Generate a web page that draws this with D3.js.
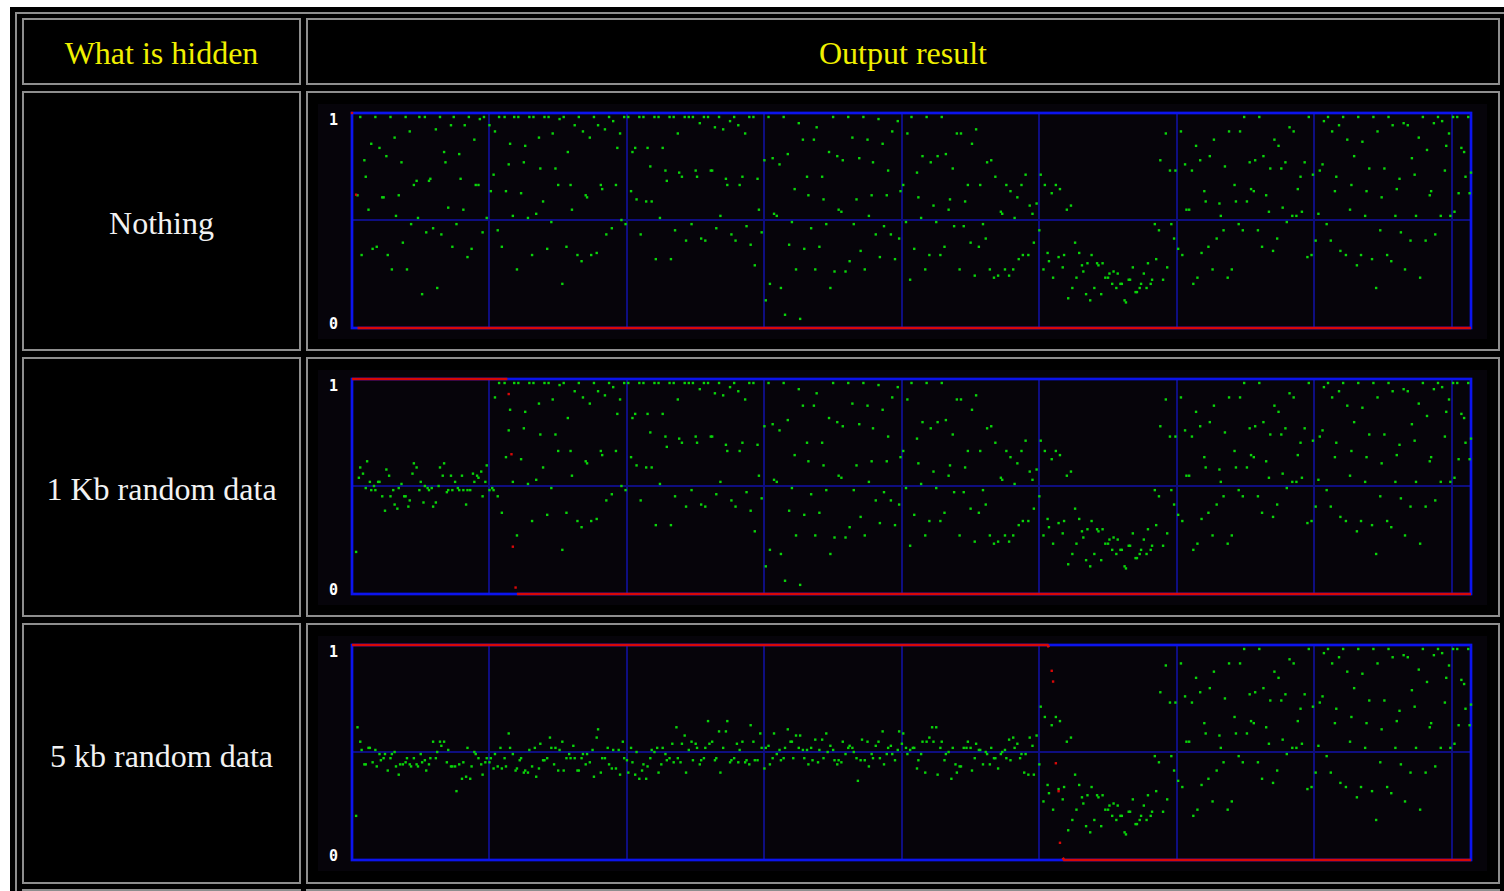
<!DOCTYPE html>
<html>
<head>
<meta charset="utf-8">
<script src="https://cdn.jsdelivr.net/npm/d3@7"></script>
<style>
  html, body { margin: 0; padding: 0; background: #fff; overflow: hidden; }
</style>
</head>
<body>
<svg id="page"></svg>
<script>
// Table texts
const headers = ['What is hidden', 'Output result'];
const rowLabels = ['Nothing', '1 Kb random data', '5 kb random data'];
const yTickLabels = ['0', '1'];
const gridX = [100, 200, 300, 400, 500, 600, 700, 800];
const sampleMax = 814;

// Green dots of the clean cover image: [sample, mean of LSBs]
const coverLsb = [
  [4,0.62],[6,1],[7,0.33],[9,0.79],[10,0.71],[12,0.55],[14,0.87],[15,0.36],[17,1],[18,0.37],[20,0.85],[22,0.61],[23,0.61],[25,0.81],[26,0.33],[28,1],[29,0.26],[31,0.90],[32,0.52],[34,0.62],[36,0.78],[37,0.39],[39,1],[40,0.26],[42,0.93],[43,0.48],[45,0.67],[47,0.69],[48,0.51],[49,1],[51,0.14],[53,1],[54,0.44],[56,0.69],[57,0.70],[59,0.46],[61,0.94],[62,0.17],[64,1],[65,0.43],[67,0.83],[68,0.78],[70,0.56],[72,0.96],[73,0.37],[74,1],[76,0.48],[78,0.82],[79,0.70],[81,0.55],[82,0.96],[84,0.32],[85,1],[87,0.36],[89,0.89],[90,0.67],[92,0.67],[93,0.99],[95,0.44],[96,1],[98,0.51],
  [100,0.96],[101,0.64],[103,0.72],[104,0.93],[106,0.45],[107,1],[109,0.37],[111,1],[112,0.64],[114,0.77],[115,0.87],[117,0.52],[118,1],[120,0.26],[121,1],[123,0.63],[125,0.78],[126,0.86],[128,0.51],[129,1],[131,0.33],[132,1],[134,0.53],[136,0.90],[137,0.75],[139,0.59],[140,1],[142,0.36],[143,1],[145,0.49],[146,0.92],[148,0.75],[150,0.67],[151,0.99],[153,0.19],[154,1],[156,0.37],[157,0.83],[159,0.67],[160,0.55],[162,0.96],[164,0.33],[165,1],[167,0.30],[168,0.93],[170,0.62],[171,0.61],[173,0.90],[174,0.33],[176,1],[178,0.34],[179,0.96],[181,0.67],[182,0.65],[184,0.94],[185,0.43],[187,1],[189,0.46],[190,0.98],[192,0.67],[193,0.85],[195,0.92],[196,0.50],[198,1],
  [199,0.48],[201,1],[203,0.64],[204,0.83],[206,0.85],[207,0.60],[209,1],[210,0.43],[212,1],[214,0.59],[215,0.85],[217,0.76],[218,0.59],[220,1],[221,0.31],[223,1],[224,0.51],[226,0.85],[228,0.74],[229,0.69],[231,1],[232,0.31],[234,1],[235,0.45],[237,0.92],[238,0.73],[240,0.71],[242,1],[243,0.40],[245,1],[247,0.48],[248,1],[250,0.74],[251,0.71],[253,0.97],[254,0.41],[256,1],[257,0.40],[259,1],[261,0.74],[262,0.74],[264,0.95],[265,0.46],[267,1],[268,0.52],[270,0.94],[272,0.70],[273,0.67],[275,0.98],[276,0.43],[278,1],[279,0.40],[281,0.96],[282,0.67],[284,0.71],[286,0.92],[287,0.47],[289,1],[290,0.38],[292,1],[293,0.28],[295,0.70],[296,0.55],[298,0.44],
  [300,0.79],[301,0.11],[303,1],[304,0.19],[306,0.80],[307,0.53],[309,0.52],[311,0.77],[312,0.17],[314,1],[315,0.04],[317,0.82],[318,0.38],[320,0.49],[322,0.65],[323,0.26],[325,0.97],[326,0.02],[328,0.89],[329,0.36],[331,0.71],[332,0.62],[334,0.46],[336,0.89],[337,0.26],[338,0.95],[340,0.37],[342,0.71],[343,0.60],[345,0.48],[347,0.83],[348,0.17],[350,1],[351,0.25],[353,0.81],[354,0.55],[356,0.54],[357,0.79],[359,0.25],[361,1],[362,0.30],[364,0.90],[365,0.48],[367,0.60],[369,0.80],[370,0.35],[372,1],[373,0.26],[375,0.89],[376,0.52],[378,0.62],[379,0.78],[381,0.43],[383,0.99],[384,0.32],[386,0.87],[387,0.47],[389,0.62],[390,0.74],[392,0.43],[393,0.93],[395,0.31],[397,0.98],[398,0.41],
  [399,0.64],[401,0.67],[403,0.49],[404,0.92],[406,0.21],[407,1],[409,0.36],[411,0.73],[412,0.61],[414,0.51],[415,0.81],[417,0.26],[418,1],[420,0.33],[421,0.78],[423,0.57],[425,0.49],[426,0.81],[428,0.33],[429,1],[431,0.37],[432,0.82],[434,0.55],[435,0.60],[437,0.75],[438,0.47],[440,0.92],[442,0.26],[443,0.92],[445,0.47],[446,0.59],[448,0.67],[450,0.39],[451,0.87],[453,0.23],[454,0.94],[456,0.37],[457,0.67],[459,0.48],[461,0.41],[462,0.78],[464,0.26],[465,0.79],[467,0.22],[468,0.71],[470,0.23],[472,0.54],[473,0.53],[475,0.26],[476,0.67],[478,0.23],[479,0.64],[481,0.26],[482,0.51],[484,0.61],[485,0.31],[487,0.67],[488,0.33],[490,0.72],[492,0.33],[493,0.57],[495,0.53],[496,0.39],[498,0.58],[500,0.45],
  [501,0.72],[503,0.26],[504,0.67],[506,0.34],[507,0.30],[509,0.63],[510,0.22],[512,0.67],[514,0.32],[515,0.65],[517,0.27],[518,0.33],[520,0.55],[521,0.12],[523,0.57],[524,0.17],[526,0.39],[527,0.22],[529,0.34],[531,0.28],[532,0.25],[534,0.14],[535,0.29],[537,0.11],[538,0.33],[540,0.17],[542,0.29],[543,0.28],[545,0.14],[546,0.29],[548,0.22],[550,0.22],[551,0.24],[553,0.19],[554,0.25],[556,0.17],[557,0.24],[559,0.19],[560,0.19],[562,0.11],[563,0.10],[565,0.21],[566,0.21],[568,0.27],[570,0.15],[571,0.15],[573,0.17],[574,0.19],[576,0.24],[578,0.17],[579,0.29],[581,0.19],[582,0.21],[584,0.48],[585,0.31],[587,0.45],[588,0.79],[590,0.21],[592,0.92],[593,0.27],[595,0.74],[596,0.48],[598,0.41],[599,0.74],
  [601,0.36],[603,0.93],[604,0.33],[606,0.77],[607,0.55],[609,0.55],[611,0.74],[612,0.19],[614,0.86],[615,0.22],[617,0.79],[618,0.34],[620,0.64],[621,0.59],[623,0.37],[624,0.81],[626,0.26],[627,0.89],[629,0.41],[631,0.58],[632,0.52],[634,0.45],[635,0.76],[637,0.22],[638,0.93],[640,0.26],[642,0.67],[643,0.59],[645,0.48],[646,0.93],[648,0.45],[649,1],[651,0.59],[653,0.78],[654,0.65],[656,0.64],[657,0.79],[659,0.45],[660,1],[662,0.37],[663,0.81],[665,0.62],[667,0.54],[668,0.75],[670,0.35],[671,0.89],[673,0.41],[674,0.86],[676,0.75],[677,0.56],[679,0.78],[680,0.49],[682,0.95],[684,0.52],[685,0.93],[687,0.52],[688,0.65],[690,0.71],[691,0.54],[693,0.78],[695,0.32],[696,1],[698,0.33],[699,0.72],
  [701,0.40],[703,0.53],[704,0.74],[706,0.77],[707,0.98],[709,0.48],[710,1],[712,0.40],[713,0.93],[715,0.64],[716,0.71],[718,0.96],[719,0.35],[721,1],[723,0.33],[724,0.89],[726,0.55],[727,0.67],[729,0.81],[731,0.28],[732,1],[734,0.33],[735,0.88],[737,0.52],[738,0.64],[740,0.75],[742,0.31],[743,1],[745,0.17],[746,0.93],[748,0.45],[749,0.61],[751,0.75],[753,0.33],[754,1],[756,0.30],[757,0.96],[759,0.52],[760,0.65],[762,0.70],[763,0.44],[765,0.97],[766,0.26],[768,0.96],[770,0.40],[771,0.80],[773,0.72],[774,0.52],[776,0.90],[777,0.22],[779,1],[781,0.40],[782,0.84],[784,0.62],[785,0.64],[787,0.97],[788,0.43],[790,1],[792,0.52],[793,0.98],[795,0.74],[796,0.86],[798,0.92],[799,0.52],
  [801,1],[802,0.54],[804,1],[805,0.63],[807,0.85],[809,0.83],[810,0.71],[812,1],[813,0.63],[814,0.73]
];

// Green dots where 1 Kb was embedded (the rest is the cover)
const kb1Lsb = [
  [3,0.18],[5,0.54],[6,0.59],[8,0.56],[10,0.49],[11,0.62],[13,0.52],[14,0.48],[16,0.50],[17,0.48],[19,0.52],[20,0.52],[22,0.45],[24,0.38],[25,0.58],[27,0.55],[28,0.45],[30,0.48],[31,0.41],[33,0.39],[34,0.49],[36,0.51],[38,0.45],[39,0.45],[41,0.40],[42,0.43],[44,0.56],[45,0.61],[47,0.59],[49,0.48],[50,0.52],[52,0.42],[53,0.50],[55,0.49],[56,0.48],[58,0.49],[59,0.40],[61,0.42],[63,0.50],[64,0.59],[66,0.55],[67,0.61],[69,0.47],[70,0.48],[72,0.55],[73,0.48],[75,0.52],[77,0.49],[78,0.48],[80,0.55],[81,0.48],[83,0.41],[84,0.48],[86,0.48],[88,0.56],[89,0.52],[91,0.55],[92,0.54],[94,0.57],[95,0.45],[97,0.52],[98,0.60],[100,0.48],[102,0.49],[103,0.48]
];

// Green dots where 5 Kb was embedded (the rest is the cover)
const kb5Lsb = [
  [3,0.19],[4,0.62],[6,0.55],[7,0.51],[9,0.44],[10,0.44],[12,0.52],[13,0.52],[15,0.45],[17,0.51],[18,0.43],[20,0.49],[21,0.46],[23,0.47],[24,0.49],[26,0.41],[28,0.47],[29,0.49],[31,0.50],[32,0.43],[34,0.39],[35,0.44],[37,0.44],[39,0.45],[40,0.47],[42,0.44],[43,0.43],[45,0.47],[47,0.44],[48,0.43],[50,0.49],[51,0.45],[53,0.46],[54,0.41],[56,0.44],[57,0.47],[59,0.55],[61,0.47],[62,0.50],[64,0.55],[65,0.53],[67,0.55],[69,0.45],[70,0.51],[72,0.43],[73,0.43],[75,0.43],[76,0.31],[78,0.44],[80,0.37],[81,0.45],[83,0.38],[84,0.52],[86,0.37],[87,0.43],[89,0.50],[90,0.49],[92,0.47],[94,0.44],[95,0.39],[97,0.45],[98,0.47],
  [100,0.45],[101,0.47],[103,0.42],[104,0.49],[106,0.43],[108,0.52],[109,0.42],[111,0.47],[112,0.43],[114,0.59],[115,0.52],[117,0.49],[119,0.41],[120,0.42],[122,0.46],[123,0.47],[125,0.40],[126,0.41],[128,0.40],[129,0.51],[131,0.43],[133,0.52],[134,0.38],[136,0.42],[137,0.54],[139,0.46],[140,0.46],[142,0.47],[144,0.57],[145,0.52],[147,0.44],[148,0.52],[150,0.41],[151,0.51],[153,0.55],[154,0.41],[156,0.47],[158,0.49],[159,0.47],[161,0.53],[162,0.47],[164,0.41],[165,0.41],[167,0.47],[168,0.49],[170,0.44],[171,0.49],[173,0.45],[175,0.51],[176,0.38],[178,0.57],[179,0.61],[181,0.40],[182,0.47],[184,0.47],[186,0.52],[187,0.44],[189,0.42],[190,0.51],[192,0.42],[194,0.51],[195,0.39],[197,0.55],[198,0.47],
  [200,0.46],[201,0.40],[203,0.52],[204,0.45],[206,0.39],[207,0.50],[209,0.37],[211,0.41],[212,0.44],[214,0.37],[215,0.43],[217,0.47],[218,0.51],[220,0.50],[222,0.52],[223,0.40],[225,0.44],[226,0.52],[228,0.49],[229,0.46],[231,0.47],[233,0.54],[234,0.45],[236,0.62],[237,0.47],[239,0.45],[240,0.54],[242,0.58],[243,0.40],[245,0.51],[247,0.55],[248,0.46],[250,0.54],[251,0.52],[253,0.44],[254,0.46],[256,0.47],[257,0.52],[259,0.65],[260,0.54],[262,0.55],[264,0.46],[265,0.47],[267,0.60],[268,0.40],[270,0.52],[272,0.60],[273,0.65],[275,0.45],[276,0.46],[278,0.47],[280,0.54],[281,0.45],[282,0.51],[284,0.55],[286,0.45],[287,0.46],[289,0.44],[290,0.63],[292,0.55],[293,0.46],[295,0.46],[297,0.59],[298,0.52],
  [300,0.42],[301,0.52],[303,0.53],[304,0.44],[306,0.47],[307,0.59],[309,0.49],[311,0.51],[312,0.46],[314,0.47],[315,0.52],[317,0.61],[319,0.55],[320,0.55],[321,0.47],[323,0.58],[325,0.52],[326,0.58],[328,0.51],[329,0.47],[331,0.51],[332,0.44],[334,0.52],[335,0.46],[337,0.56],[339,0.45],[340,0.51],[342,0.56],[343,0.47],[345,0.59],[346,0.50],[348,0.53],[350,0.51],[351,0.46],[353,0.44],[354,0.46],[356,0.45],[357,0.55],[359,0.49],[361,0.52],[362,0.53],[364,0.52],[365,0.50],[367,0.47],[368,0.36],[370,0.46],[371,0.56],[373,0.46],[375,0.55],[376,0.43],[378,0.49],[379,0.47],[381,0.53],[383,0.55],[384,0.47],[386,0.60],[387,0.44],[389,0.49],[390,0.52],[392,0.53],[393,0.49],[395,0.46],[397,0.51],[398,0.60],
  [400,0.54],[401,0.59],[403,0.52],[404,0.49],[406,0.51],[408,0.52],[409,0.52],[411,0.42],[412,0.46],[414,0.49],[415,0.55],[417,0.40],[418,0.55],[420,0.57],[422,0.62],[423,0.55],[425,0.62],[426,0.39],[428,0.52],[429,0.55],[431,0.46],[432,0.49],[434,0.50],[436,0.37],[437,0.52],[439,0.44],[440,0.40],[442,0.43],[443,0.43],[445,0.52],[447,0.52],[448,0.55],[450,0.52],[451,0.41],[453,0.47],[454,0.54],[456,0.51],[457,0.51],[459,0.44],[461,0.50],[462,0.49],[464,0.44],[465,0.52],[467,0.47],[468,0.47],[470,0.42],[472,0.49],[473,0.50],[475,0.51],[476,0.47],[478,0.56],[479,0.46],[481,0.57],[482,0.52],[484,0.54],[486,0.47],[487,0.49],[489,0.40],[490,0.49],[492,0.39],[493,0.57],[495,0.53],[496,0.39],[498,0.58],[500,0.44]
];
const embedEnd = [0, 104, 501];   // first sample taken from the cover again

// Red: probability of embedding, [sample, p]
const pNothing = [[0,1],[3,0.62],[4,0],[814,0]];
const p1kb = [[0,1],[113,1],[114,0.93],[116,0.65],[117,0.22],[119,0.03],[120,0],[814,0]];
const p5kb = [[0,1],[506,1],[507,0.99],[509,0.88],[510,0.83],[512,0.45],[514,0.32],[515,0.08],[517,0.01],[518,0],[814,0]];

const lsbRows = [[], kb1Lsb, kb5Lsb];
const probRows = [pNothing, p1kb, p5kb];

// Page
const W = 1504, H = 891;
const svg = d3.select('#page').attr('width', W).attr('height', H);
svg.append('rect').attr('width', W).attr('height', H).attr('fill', '#fff');
svg.append('rect').attr('x', 10).attr('y', 7).attr('width', W - 10).attr('height', H - 7).attr('fill', '#000');

// Table borders
const border = '#8e8e8e';
svg.append('path')
  .attr('d', 'M16,' + H + 'V13H' + W)
  .attr('fill', 'none').attr('stroke', border).attr('stroke-width', 2);

function cell(x0, y0, x1, y1) {
  svg.append('rect')
    .attr('x', x0 + 1).attr('y', y0 + 1)
    .attr('width', x1 - x0 - 2).attr('height', y1 - y0 - 2)
    .attr('fill', '#000').attr('stroke', border).attr('stroke-width', 2);
}
const colX = [[22, 301], [306, 1500]];
const rowY = [[18, 85], [91, 351], [357, 617], [623, 884], [889, 960]];
rowY.forEach(function (r) {
  colX.forEach(function (c) { cell(c[0], r[0], c[1], r[1]); });
});

// Header texts
svg.selectAll('text.head')
  .data(headers)
  .enter()
  .append('text')
  .attr('class', 'head')
  .attr('x', function (d, i) { return (colX[i][0] + colX[i][1]) / 2; })
  .attr('y', 64)
  .attr('text-anchor', 'middle')
  .attr('font-family', 'Liberation Serif, serif')
  .attr('font-size', 32)
  .attr('fill', '#f0f000')
  .text(function (d) { return d; });

// Row labels
svg.selectAll('text.rowlabel')
  .data(rowLabels)
  .enter()
  .append('text')
  .attr('class', 'rowlabel')
  .attr('x', (colX[0][0] + colX[0][1]) / 2)
  .attr('y', function (d, i) { return (rowY[i + 1][0] + rowY[i + 1][1]) / 2 + 13; })
  .attr('text-anchor', 'middle')
  .attr('font-family', 'Liberation Serif, serif')
  .attr('font-size', 32)
  .attr('fill', '#f2f2f2')
  .text(function (d) { return d; });

// Scales shared by the three plots
const plotLeft = 352, plotRight = 1471, plotH = 215;
const xScale = d3.scaleLinear().domain([0, sampleMax]).range([plotLeft, plotRight]);
const gridColor = '#0e0e80';

rowLabels.forEach(function (label, i) {
  const top = 113 + 266 * i;
  const g = svg.append('g');

  // green values sit slightly inside the frame, red uses the full frame
  const yLsb = d3.scaleLinear().domain([0, 1]).range([top + 210, top + 4]);
  const yProb = d3.scaleLinear().domain([0, 1]).range([top + plotH, top]);
  const yTick = d3.scaleLinear().domain([0, 1]).range([top + 210.5, top + 7]);

  // plot image background
  g.append('rect')
    .attr('x', 318).attr('y', top - 9)
    .attr('width', 1169).attr('height', plotH + 20)
    .attr('fill', '#06040a');

  // vertical grid, snapped to whole pixels, 2px like the frame
  g.selectAll('line.gx')
    .data(gridX)
    .enter()
    .append('line')
    .attr('class', 'gx')
    .attr('x1', function (d) { return Math.round(xScale(d)); })
    .attr('x2', function (d) { return Math.round(xScale(d)); })
    .attr('y1', top)
    .attr('y2', top + plotH)
    .attr('stroke', gridColor)
    .attr('stroke-width', 2);

  // horizontal grid at 0.5
  g.append('line')
    .attr('x1', plotLeft).attr('x2', plotRight)
    .attr('y1', Math.round(yLsb(0.5)))
    .attr('y2', Math.round(yLsb(0.5)))
    .attr('stroke', gridColor)
    .attr('stroke-width', 2);

  // frame
  g.append('rect')
    .attr('x', plotLeft).attr('y', top)
    .attr('width', plotRight - plotLeft).attr('height', plotH)
    .attr('fill', 'none').attr('stroke', '#0c14ee').attr('stroke-width', 2.7);

  // 0 / 1 labels
  g.append('g')
    .attr('transform', 'translate(338,0)')
    .call(d3.axisLeft(yTick).tickValues([0, 1]).tickSize(0).tickPadding(0)
      .tickFormat(function (d) { return yTickLabels[d]; }))
    .call(function (a) {
      a.select('.domain').remove();
      a.selectAll('text')
        .attr('fill', '#fff')
        .attr('font-family', 'DejaVu Sans Mono, monospace')
        .attr('font-weight', 'bold')
        .attr('font-size', 15);
    });

  // green dots: embedded part then the cover
  const lsb = lsbRows[i].filter(function (d) { return d[0] < embedEnd[i]; })
    .concat(coverLsb.filter(function (d) { return d[0] >= embedEnd[i]; }));
  g.selectAll('rect.lsb')
    .data(lsb)
    .enter()
    .append('rect')
    .attr('class', 'lsb')
    .attr('x', function (d) { return xScale(d[0]) - 1.2; })
    .attr('y', function (d) { return yLsb(d[1]) - 1.2; })
    .attr('width', 2.4)
    .attr('height', 2.4)
    .attr('fill', '#0ad40a');

  // red: flat runs as lines, jumps as single dots
  const prob = probRows[i];
  const runs = [];
  let run = [prob[0]];
  for (let k = 1; k < prob.length; k++) {
    if (Math.abs(prob[k][1] - prob[k - 1][1]) <= 0.011) {
      run.push(prob[k]);
    } else {
      runs.push(run);
      run = [prob[k]];
    }
  }
  runs.push(run);

  const line = d3.line()
    .x(function (d) { return xScale(d[0]); })
    .y(function (d) { return yProb(d[1]); });

  g.selectAll('path.prob')
    .data(runs.filter(function (r) { return r.length > 1; }))
    .enter()
    .append('path')
    .attr('class', 'prob')
    .attr('d', line)
    .attr('fill', 'none')
    .attr('stroke', '#d80808')
    .attr('stroke-width', 2.7);

  g.selectAll('rect.prob')
    .data(runs.filter(function (r) { return r.length === 1; }).map(function (r) { return r[0]; }))
    .enter()
    .append('rect')
    .attr('class', 'prob')
    .attr('x', function (d) { return xScale(d[0]) - 1.2; })
    .attr('y', function (d) { return yProb(d[1]) - 1.2; })
    .attr('width', 2.4)
    .attr('height', 2.4)
    .attr('fill', '#d80808');
});
</script>
</body>
</html>
